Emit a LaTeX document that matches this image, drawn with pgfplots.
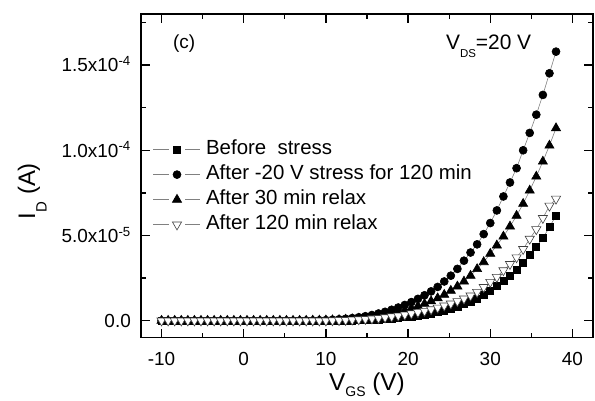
\documentclass[border=0pt]{standalone}
\usepackage{fontspec}
\setmainfont{Liberation Sans}
\usepackage{pgfplots}
\pgfplotsset{compat=1.18}
\usepackage{pgfplotstable}

% drain current (A) against gate voltage (V), V_DS = 20 V
\pgfplotstableread{
V     sq        ci        tr        it
-10.0 0         0         0         0
-9.2  0         0         0         0
-8.4  0         0         0         0
-7.6  0         0         0         0
-6.8  0         0         0         0
-6.0  0         0         0         0
-5.2  0         0         0         0
-4.4  0         0         0         0
-3.6  0         0         0         0
-2.8  0         0         0         0
-2.0  0         0         0         0
-1.2  0         0         0         0
-0.4  0         0         0         0
0.4   0         0         0         0
1.2   0         0         0         0
2.0   0         0         0         0
2.8   0         0         0         0
3.6   0         0         0         0
4.4   0         0         0         0
5.2   0         0         0         0
6.0   0         0         0         0
6.8   0         0.005e-5  0         0
7.6   0         0.01e-5   0         0
8.4   0         0.01e-5   0.01e-5   0
9.2   0         0.02e-5   0.01e-5   0
10.0  0         0.03e-5   0.02e-5   0
10.8  0         0.05e-5   0.03e-5   0.01e-5
11.6  0         0.08e-5   0.04e-5   0.02e-5
12.4  0.01e-5   0.11e-5   0.06e-5   0.03e-5
13.2  0.02e-5   0.15e-5   0.09e-5   0.05e-5
14.0  0.03e-5   0.20e-5   0.12e-5   0.07e-5
14.8  0.04e-5   0.26e-5   0.16e-5   0.09e-5
15.6  0.06e-5   0.33e-5   0.21e-5   0.12e-5
16.4  0.08e-5   0.42e-5   0.27e-5   0.15e-5
17.2  0.10e-5   0.52e-5   0.34e-5   0.19e-5
18.0  0.13e-5   0.64e-5   0.42e-5   0.24e-5
18.8  0.16e-5   0.77e-5   0.51e-5   0.29e-5
19.6  0.20e-5   0.92e-5   0.61e-5   0.35e-5
20.4  0.25e-5   1.09e-5   0.72e-5   0.42e-5
21.2  0.30e-5   1.28e-5   0.85e-5   0.49e-5
22.0  0.36e-5   1.49e-5   0.99e-5   0.57e-5
22.8  0.43e-5   1.72e-5   1.14e-5   0.66e-5
23.6  0.51e-5   1.98e-5   1.32e-5   0.76e-5
24.4  0.60e-5   2.30e-5   1.52e-5   0.88e-5
25.2  0.70e-5   2.64e-5   1.76e-5   1.00e-5
26.0  0.82e-5   3.04e-5   2.01e-5   1.14e-5
26.8  0.97e-5   3.52e-5   2.30e-5   1.29e-5
27.6  1.11e-5   4.00e-5   2.64e-5   1.47e-5
28.4  1.31e-5   4.48e-5   3.03e-5   1.68e-5
29.2  1.52e-5   5.08e-5   3.44e-5   1.97e-5
30.0  1.78e-5   5.73e-5   3.93e-5   2.27e-5
30.8  2.05e-5   6.47e-5   4.42e-5   2.56e-5
31.6  2.33e-5   7.29e-5   4.94e-5   2.95e-5
32.4  2.64e-5   8.11e-5   5.53e-5   3.32e-5
33.2  2.99e-5   8.95e-5   6.16e-5   3.71e-5
34.0  3.38e-5   10.00e-5  6.86e-5   4.20e-5
34.8  3.85e-5   11.02e-5  7.64e-5   4.80e-5
35.6  4.32e-5   12.09e-5  8.46e-5   5.36e-5
36.4  4.85e-5   13.25e-5  9.34e-5   6.02e-5
37.2  5.49e-5   14.52e-5  10.28e-5  6.74e-5
38.0  6.17e-5   15.79e-5  11.30e-5  7.15e-5
}\transfer

% lowered subscript with its own size and drop
\newcommand{\lsub}[3]{\raisebox{-#3}{\fontsize{#1}{#1}\selectfont #2}}

\begin{document}
\begin{tikzpicture}
\path[use as bounding box] (-141bp,-63.3bp) rectangle (454bp,337.7bp);
\begin{axis}[
  at={(0,0)}, anchor=south west,
  scale only axis, width=452bp, height=323.7bp,
  xmin=-12.5, xmax=42.5, ymin=-1e-5, ymax=1.8e-4,
  xtick={-10,0,10,20,30,40},
  xticklabels={-10,0,10,20,30,40},
  minor xtick={-5,5,15,25,35},
  ytick={0,5e-5,1e-4,1.5e-4},
  yticklabels={0.0,5.0x10\textsuperscript{-5},1.0x10\textsuperscript{-4},1.5x10\textsuperscript{-4}},
  minor ytick={2.5e-5,7.5e-5,1.25e-4,1.75e-4},
  scaled y ticks=false,
  tick align=inside,
  major tick length=9bp, minor tick length=5bp,
  axis line style={line width=1.5bp},
  every tick/.style={line width=1.3bp, black},
  tick label style={font=\fontsize{19}{22}\selectfont, inner sep=0pt, text height=13.6bp, text depth=0bp},
  xticklabel shift=14bp,
  yticklabel shift=10bp,
  xlabel={V\lsub{14}{GS}{6bp} (V)},
  ylabel={I\lsub{15}{D}{11.7bp} (A)},
  x label style={at={(axis description cs:0.5,-0.1646)}, anchor=base, inner sep=0pt, font=\fontsize{24.5}{28}\selectfont},
  y label style={at={(axis description cs:-0.2345,0.453)}, anchor=base, rotate=0, inner sep=0pt, font=\fontsize{24}{28}\selectfont},
  legend cell align=left,
  legend style={at={(axis description cs:0.0259,0.611)}, anchor=north west,
    draw=none, fill=none, inner sep=0pt, row sep=6bp, column sep=6bp,
    font=\fontsize{20.5}{24}\selectfont,
    nodes={inner sep=0pt, text height=14.7bp, text depth=4.3bp}},
  legend image code/.code={
    \draw[line width=0.6bp, gray] (0bp,0bp) -- (15.6bp,0bp);
    \draw[line width=0.6bp, gray] (32bp,0bp) -- (46.6bp,0bp);
    \draw[#1, draw opacity=0] plot coordinates {(23.8bp,0bp)};
  },
  every axis plot/.append style={line width=0.6bp, gray},
]
\addplot[mark=square*, mark size=3.5bp, mark options={black, fill=black, draw opacity=1}]
  table[x=V, y=sq] {\transfer};
\addlegendentry{Before\ \ stress}
\addplot[mark=*, mark size=4bp, mark options={black, fill=black, draw opacity=1}]
  table[x=V, y=ci] {\transfer};
\addlegendentry{After -20 V stress for 120 min}
\addplot[mark=triangle*, mark size=5.3bp, mark options={black, fill=black, draw opacity=1}]
  table[x=V, y=tr] {\transfer};
\addlegendentry{After 30 min relax}
\addplot[mark=triangle*, mark size=5.3bp, mark options={rotate=180, draw=black!75, fill=white, line width=0.6bp, draw opacity=1}]
  table[x=V, y=it] {\transfer};
\addlegendentry{After 120 min relax}

\node[anchor=base west, inner sep=0pt, font=\fontsize{19}{22}\selectfont] at (axis cs:-8.62,1.596e-4) {(c)};
\node[anchor=base west, inner sep=0pt, font=\fontsize{21}{24}\selectfont] at (axis cs:24.6,1.589e-4) {V\lsub{11.5}{DS}{7.3bp}=20 V};
\end{axis}
\end{tikzpicture}
\end{document}
